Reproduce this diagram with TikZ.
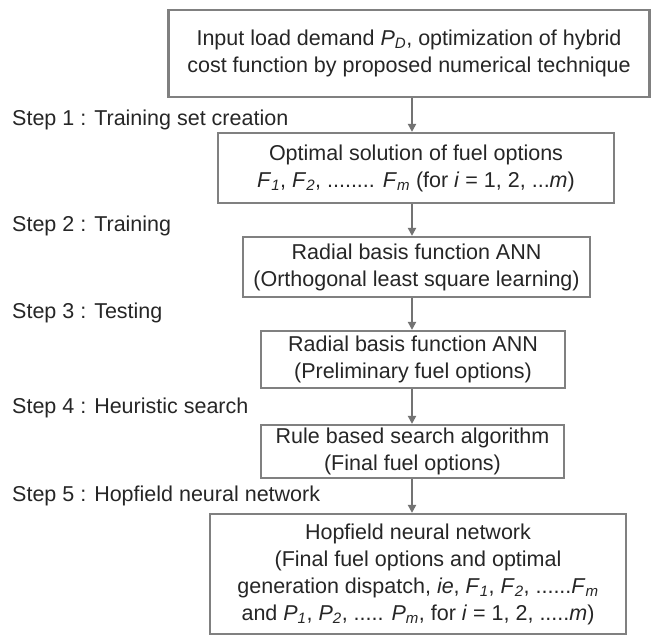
\documentclass[tikz,border=0pt]{standalone}
\usepackage{fontspec}
\setmainfont{Liberation Sans}
\usetikzlibrary{arrows.meta}
\newcommand{\vs}[2]{\textit{#1}\textsubscript{\textit{#2}}}
\begin{document}
\begin{tikzpicture}[x=1pt,y=-1pt,
  box/.style={draw=black!50, line width=2.2pt, fill=white, align=center, inner sep=0pt,
    text=black!85, font=\fontsize{21.5}{27}\selectfont},
  lab/.style={anchor=base west, inner sep=0pt, text=black!85, font=\fontsize{21.5}{27}\selectfont},
  arr/.style={draw=black!55, line width=2pt, -{Triangle[length=8pt,width=8pt]}}]
\useasboundingbox (0,0) rectangle (652,637);
\coordinate (ax) at (412,0);
\node[box, minimum width=481pt, minimum height=87pt] (b1) at (409,53.5)
  {Input load demand \vs{P}{D}, optimization of hybrid\\cost function by proposed numerical technique};
\node[box, minimum width=396pt, minimum height=70pt] (b2) at (416,168)
  {Optimal solution of fuel options\\\vs{F}{1}, \vs{F}{2}, ........ \vs{F}{m} (for \textit{i} = 1, 2, ...\textit{m})};
\node[box, minimum width=347pt, minimum height=60pt] (b3) at (416.5,267)
  {Radial basis function ANN\\(Orthogonal least square learning)};
\node[box, minimum width=304pt, minimum height=57pt] (b4) at (413,359.5)
  {Radial basis function ANN\\(Preliminary fuel options)};
\node[box, minimum width=303pt, minimum height=53pt] (b5) at (412.5,451.5)
  {Rule based search algorithm\\(Final fuel options)};
\node[box, minimum width=416pt, minimum height=120pt] (b6) at (418,574)
  {Hopfield neural network\\(Final fuel options and optimal\\generation dispatch, \textit{ie}, \vs{F}{1}, \vs{F}{2}, ......\vs{F}{m}\\and \vs{P}{1}, \vs{P}{2}, ..... \vs{P}{m}, for \textit{i} = 1, 2, .....\textit{m})};
\node[lab] (s1) at (12,125) {Step 1 : Training set creation};
\node[lab] (s2) at (12,231) {Step 2 : Training};
\node[lab] (s3) at (12,318) {Step 3 : Testing};
\node[lab] (s4) at (12,413) {Step 4 : Heuristic search};
\node[lab] (s5) at (12,501) {Step 5 : Hopfield neural network};
\draw[arr] (b1.south -| ax) -- (b2.north -| ax);
\draw[arr] (b2.south -| ax) -- (b3.north -| ax);
\draw[arr] (b3.south -| ax) -- (b4.north -| ax);
\draw[arr] (b4.south -| ax) -- (b5.north -| ax);
\draw[arr] (b5.south -| ax) -- (b6.north -| ax);
\end{tikzpicture}
\end{document}
